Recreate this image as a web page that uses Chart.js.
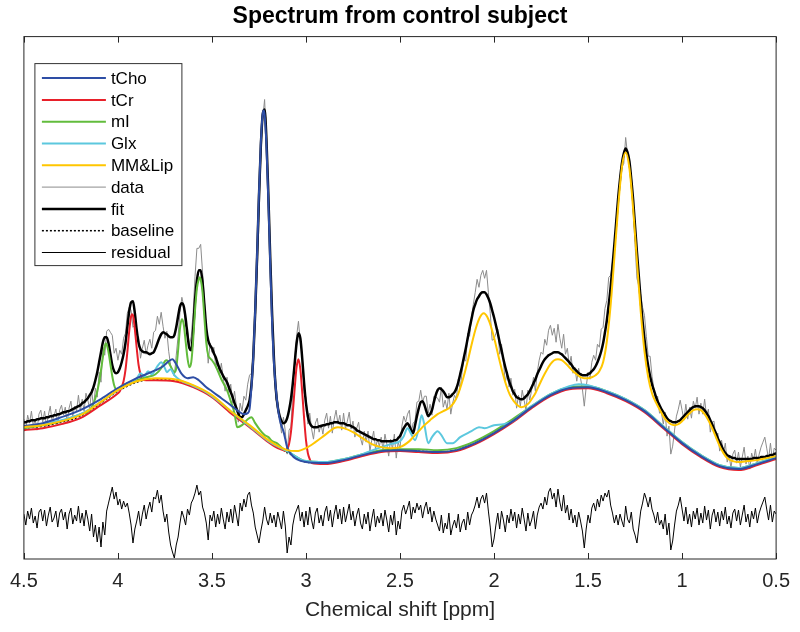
<!DOCTYPE html>
<html>
<head>
<meta charset="utf-8">
<title>Spectrum from control subject</title>
<script src="https://cdn.jsdelivr.net/npm/chart.js@4.4.1/dist/chart.umd.min.js"></script>
<style>
  html, body { margin: 0; padding: 0; background: #fff; }
  #chart { display: block; }
</style>
</head>
<body>
<canvas id="chart" width="800" height="632"></canvas>
<script>
// x ticks (ppm), axis runs 4.5 -> 0.5
const xTicks = [4.5, 4, 3.5, 3, 2.5, 2, 1.5, 1, 0.5];

// measured data / fit / residual sampled every 0.01 ppm from 4.50 down to 0.50
const ppmGrid = [];
for (let i = 0; i <= 400; i++) ppmGrid.push(Math.round((4.5 - i * 0.01) * 100) / 100);

const dataVals = [
  140,129,144,136,148,133,140,129,145,149, 137,148,133,144,153,138,143,150,135,149,
  154,144,152,136,151,158,143,153,148,164, 148,160,148,166,159,150,170,152,171,162,
  187,177,212,204,228,230,227,224,206,211, 199,209,205,221,226,246,252,249,232,234,
  225,222,201,211,219,205,214,220,211,227, 229,243,235,247,233,221,228,208,194,187,
  183,204,223,247,262,253,233,232,213,223, 247,283,311,311,315,287,258,225,196,216,
  207,212,192,199,184,196,181,168,182,167, 175,156,168,153,137,156,148,163,159,175,
  184,186,207,237,284,337,400,441,460,417, 356,305,238,201,159,157,140,126,142,128,
  105,129,132,168,198,223,238,217,206,166, 162,135,146,130,120,136,141,127,135,125,
  139,146,131,143,126,140,149,135,144,129, 146,130,138,147,130,138,122,131,137,121,
  114,128,117,128,108,119,128,110,120,113, 122,109,125,115,103,120,110,125,101,117,
  111,133,143,137,145,149,127,136,138,157, 158,169,157,163,163,146,155,144,163,162,
  161,157,172,152,159,150,166,145,156,164, 160,180,170,187,200,198,226,223,242,255,
  267,280,272,284,289,281,289,267,246,219, 220,226,230,205,215,197,177,187,172,181,
  164,170,151,164,153,169,159,149,169,159, 169,182,168,187,199,207,205,220,214,229,
  234,224,231,217,235,221,211,225,205,211, 194,203,186,192,178,191,181,170,153,172,
  187,180,197,204,199,215,212,230,232,251, 259,282,284,297,309,340,353,383,392,396,
  422,405,392,385,347,315,281,273,265,252, 244,223,203,203,183,171,157,163,146,147,
  135,147,123,133,105,113,129,143,150,159, 149,139,155,140,152,141,158,151,162,145,
  156,145,160,143,150,127,137,138,121,126, 108,119,106,116,97,104,91,105,109,96,
  107,92,102,112,95,103,90,106,99,110, 95,105,112,117,122,111,100,116,99,111,
  109
];

const fitVals = [
  137,137,138,138,139,139,139,140,140,141, 141,141,142,142,143,143,144,144,145,145,
  146,147,147,148,148,149,150,151,152,153, 154,156,157,159,161,164,167,172,179,187,
  197,207,217,222,222,216,205,194,188,186, 187,191,197,205,216,232,248,257,258,246,
  229,216,210,208,207,207,206,205,206,207, 211,216,221,225,227,226,225,223,222,222,
  224,232,243,253,256,253,241,224,211,209, 229,259,279,289,289,277,254,231,219,214,
  211,206,202,196,191,187,183,180,177,172, 167,162,156,151,146,142,142,145,149,153,
  159,174,203,247,302,363,414,445,450,419, 364,301,244,199,169,152,143,138,136,137,
  141,149,160,176,196,216,226,221,201,176, 156,143,136,133,132,132,132,133,133,134,
  134,135,135,136,136,137,137,137,136,136, 136,135,134,134,133,132,131,129,128,127,
  126,125,124,123,122,121,120,120,119,119, 118,118,118,118,118,118,118,119,119,121,
  123,127,131,134,136,133,129,126,134,143, 151,157,158,154,148,143,145,149,157,164,
  169,171,170,168,165,162,162,163,165,167, 171,177,185,193,202,211,221,231,240,249,
  255,260,263,266,267,267,265,261,256,249, 242,234,226,217,209,200,192,185,178,173,
  168,165,162,161,160,160,161,163,165,168, 172,176,180,185,189,193,197,200,202,204,
  205,206,207,207,207,206,205,203,201,199, 197,195,192,190,188,186,185,184,184,184,
  185,186,188,190,193,197,202,208,216,227, 239,255,272,293,315,338,361,380,396,406,
  411,407,398,380,359,333,307,283,259,238, 220,205,193,183,175,169,163,158,154,150,
  147,144,141,139,138,137,137,137,138,139, 141,143,145,147,149,151,152,153,153,153,
  152,151,149,146,143,139,135,130,126,121, 117,113,109,106,104,103,102,101,101,100,
  100,100,100,100,100,100,100,100,101,101, 101,101,102,102,102,103,103,104,104,105,
  106
];

const residualVals = [
  45,34,48,40,51,36,43,31,47,50, 38,49,33,44,52,37,41,48,32,46,
  50,39,47,30,45,51,35,44,38,53, 36,46,33,49,40,28,45,22,34,17,
  32,12,37,24,48,56,64,72,60,67, 54,60,50,58,52,56,46,34,16,30,
  38,48,33,45,54,40,50,57,47,62, 60,69,56,64,48,37,45,27,14,7,
  1,14,22,36,48,42,34,50,44,56, 60,66,74,64,68,52,46,36,19,44,
  38,48,32,45,35,51,40,30,47,37, 50,36,54,44,33,56,48,60,52,64,
  67,54,46,32,24,16,28,38,52,40, 34,46,36,44,32,47,39,30,48,33,
  6,22,14,34,44,49,54,38,47,32, 48,34,52,39,30,46,51,36,44,33,
  47,53,38,49,32,45,54,40,50,35, 52,37,46,55,39,48,33,44,51,36,
  30,45,35,47,28,40,50,32,43,36, 46,33,49,39,27,44,34,48,24,38,
  30,48,54,45,51,58,40,52,46,56, 49,54,41,51,57,45,52,37,48,40,
  34,28,44,26,36,30,46,24,33,39, 31,45,27,36,40,29,47,34,44,48,
  54,62,51,60,64,56,66,48,32,12, 20,34,46,30,48,39,27,44,36,50,
  38,47,31,45,35,51,40,28,46,33, 39,48,30,44,52,56,50,62,54,67,
  71,60,66,52,70,57,48,64,46,54, 39,50,36,44,32,47,38,28,11,30,
  44,36,51,56,48,60,52,64,58,66, 62,69,54,46,36,44,34,45,38,32,
  53,40,36,47,30,24,16,32,48,56, 66,60,52,62,50,44,36,47,34,39,
  30,45,24,36,9,18,34,48,54,62, 50,38,52,35,45,32,48,40,51,34,
  46,36,53,39,49,30,44,50,37,47, 33,48,39,52,35,43,31,46,50,38,
  49,34,44,54,37,45,32,48,40,51, 36,46,52,57,62,50,39,54,37,48,
  45
];

// baseline
const basePpm = [4.5,4.4,4.3,4.2,4.1,4.0,3.9,3.8,3.7,3.6,3.5,3.4,3.3,3.2,3.1,3.0,2.9,2.8,2.7,2.6,2.5,
  2.4,2.3,2.2,2.1,2.0,1.9,1.8,1.7,1.6,1.5,1.4,1.3,1.2,1.1,1.0,0.9,0.8,0.7,0.6,0.5];
const baseVals = [131,133,137,143,155,168,177,180,179,173,163,147,133,118,107,97,96,99,104,108,109,
  108,107,109,116,126,138,152,164,171,172,167,159,148,132,116,103,93,90,95,101];

// tCho
const choPpm = [4.5,4.4,4.3,4.2,4.1,4.0,3.9,3.8,3.76,3.73,3.71,3.69,3.66,3.63,3.6,3.57,3.53,3.5,3.45,3.4,
  3.36,3.33,3.31,3.3,3.29,3.28,3.27,3.26,3.25,3.24,3.23,3.225,3.22,3.21,3.2,3.19,3.18,3.17,3.16,3.15,
  3.14,3.13,3.12,3.11,3.1,3.08,3.05,3.0,2.9,2.8,2.7,2.6,2.5,2.4,2.3,2.2,2.1,2.0,1.9,1.8,1.7,1.6,1.5,
  1.4,1.3,1.2,1.1,1.0,0.9,0.8,0.7,0.6,0.5];
const choVals = [133,136,142,149,159,171,181,189,193,198,200,195,185,181,182,179,172,168,161,154,
  148,145,146,150,172,203,249,305,366,417,446,449,445,413,358,295,236,195,170,152,
  140,133,128,120,112,105,100,97,96,99,104,108,109,108,107,109,116,126,138,152,164,171,172,
  167,159,148,132,116,103,93,90,95,101];

// tCr
const crPpm = [4.5,4.4,4.3,4.2,4.1,4.0,3.99,3.97,3.96,3.95,3.94,3.93,3.925,3.92,3.91,3.9,3.89,3.88,3.87,3.85,
  3.8,3.7,3.6,3.5,3.4,3.3,3.2,3.15,3.12,3.11,3.1,3.09,3.08,3.07,3.06,3.05,3.04,3.03,3.02,3.01,3.0,
  2.99,2.98,2.97,2.9,2.8,2.7,2.6,2.5,2.4,2.3,2.2,2.1,2.0,1.9,1.8,1.7,1.6,1.5,1.4,1.3,1.2,1.1,1.0,
  0.9,0.8,0.7,0.6,0.5];
const crVals = [129,131,135,141,153,166,168,178,189,207,228,243,245,244,230,211,194,185,180,179,
  179,178,172,162,146,132,117,111,109,108,110,115,127,147,171,192,200,190,167,141,119,
  106,100,96,95,98,103,107,108,107,106,108,115,125,137,151,163,170,171,166,158,147,131,115,
  102,92,89,94,100];

// mI
const miPpm = [4.5,4.4,4.3,4.2,4.15,4.12,4.1,4.09,4.08,4.07,4.065,4.06,4.05,4.04,4.03,4.02,4.01,4.0,3.98,
  3.95,3.9,3.85,3.8,3.77,3.75,3.74,3.72,3.7,3.69,3.68,3.67,3.66,3.65,3.64,3.63,3.62,3.61,3.6,3.59,
  3.58,3.57,3.565,3.56,3.55,3.54,3.53,3.52,3.51,3.5,3.48,3.45,3.42,3.4,3.38,3.366,3.34,3.31,3.29,
  3.27,3.244,3.22,3.2,3.18,3.155,3.12,3.1,3.0,2.9,2.8,2.7,2.6,2.5,2.4,2.3,2.2,2.1,2.0,1.9,1.8,
  1.7,1.6,1.5,1.4,1.3,1.2,1.1,1.0,0.9,0.8,0.7,0.6,0.5];
const miVals = [131,134,138,145,149,161,177,189,202,213,216,215,207,195,183,174,170,170,173,
  176,179,182,185,191,198,199,193,187,191,209,231,240,235,218,201,192,197,219,249,
  271,280,282,280,267,241,216,204,201,199,193,180,169,158,146,132,134,140,142,
  136,129,124,122,118,116,110,108,98,97,100,105,109,110,110,109,111,118,128,140,153,
  165,172,173,168,160,149,133,117,104,94,91,96,102];

// Glx
const glxPpm = [4.5,4.4,4.3,4.2,4.1,4.0,3.95,3.9,3.88,3.86,3.84,3.82,3.79,3.77,3.75,3.74,3.72,3.7,3.67,
  3.62,3.55,3.5,3.4,3.3,3.2,3.1,3.0,2.9,2.8,2.7,2.6,2.55,2.5,2.48,2.46,2.44,2.42,2.4,2.385,2.37,
  2.35,2.33,2.3,2.28,2.25,2.22,2.18,2.12,2.08,2.05,2.0,1.95,1.9,1.85,1.8,1.7,1.6,1.55,1.5,1.4,
  1.3,1.2,1.1,1.0,0.9,0.8,0.7,0.6,0.5];
const glxVals = [132,135,139,145,156,169,175,181,186,183,188,185,193,197,191,187,190,184,179,
  175,169,163,148,133,118,108,98,97,100,105,112,115,118,123,131,125,119,131,144,134,
  116,122,128,124,116,116,122,128,132,131,134,135,138,146,153,165,173,175,174,168,
  160,149,133,117,104,94,91,96,102];

// MM & lipids
const mmPpm = [4.5,4.4,4.3,4.2,4.1,4.0,3.9,3.8,3.7,3.6,3.5,3.4,3.3,3.2,3.1,3.05,3.0,2.95,2.9,2.85,2.83,
  2.8,2.75,2.7,2.65,2.6,2.55,2.5,2.45,2.43,2.4,2.37,2.34,2.3,2.27,2.24,2.215,2.195,2.175,2.155,
  2.135,2.115,2.095,2.075,2.055,2.035,2.015,1.995,1.975,1.955,1.935,1.915,1.895,1.875,1.855,1.835,
  1.815,1.8,1.78,1.76,1.74,1.72,1.7,1.68,1.66,1.64,1.62,1.6,1.58,1.56,1.54,1.52,1.5,1.48,1.46,
  1.44,1.42,1.4,1.38,1.36,1.34,1.32,1.3,1.28,1.26,1.24,1.22,1.2,1.18,1.16,1.14,1.12,1.1,1.08,
  1.06,1.04,1.02,1.0,0.98,0.96,0.94,0.92,0.9,0.88,0.86,0.84,0.82,0.8,0.78,0.76,0.73,0.7,0.65,
  0.6,0.55,0.5];
const mmVals = [132,134,138,144,156,169,178,181,180,174,164,148,134,119,109,108,111,117,124,131,132,
  131,127,121,115,112,111,112,118,122,128,134,139,145,148,151,156,163,174,187,
  202,218,232,242,246,242,232,218,202,187,174,164,158,154,152,153,
  156,160,166,174,182,189,195,199,200,199,196,192,188,185,182,181,181,182,184,
  188,197,218,254,302,352,392,407,391,350,298,248,208,182,166,157,150,143,138,
  135,134,135,138,142,146,149,150,149,145,139,131,122,113,106,101,98,97,98,
  99,101,103];

const toPoints = (xs, ys) => xs.map((x, i) => ({ x: x, y: ys[i] }));

const AXIS_COLOR = '#262626';
Chart.defaults.font.family = "'Liberation Sans', Arial, Helvetica, sans-serif";
Chart.defaults.color = AXIS_COLOR;

// box round the axes, inward ticks top and bottom, legend box inside the plot
const frameAndLegend = {
  id: 'frameAndLegend',
  afterDraw(chart) {
    const { ctx, chartArea: a } = chart;
    const xs = chart.scales.x;
    ctx.save();
    ctx.strokeStyle = AXIS_COLOR;
    ctx.lineWidth = 1;
    ctx.setLineDash([]);
    ctx.strokeRect(a.left, a.top, a.right - a.left, a.bottom - a.top);
    ctx.beginPath();
    xTicks.forEach(v => {
      const px = Math.round(xs.getPixelForValue(v)) + 0.5;
      ctx.moveTo(px, a.bottom);
      ctx.lineTo(px, a.bottom - 6);
      ctx.moveTo(px, a.top);
      ctx.lineTo(px, a.top + 6);
    });
    ctx.stroke();

    // legend
    const bx = a.left + 11, by = a.top + 27, bw = 147, bh = 202;
    ctx.fillStyle = '#fff';
    ctx.fillRect(bx, by, bw, bh);
    ctx.strokeStyle = '#333';
    ctx.strokeRect(bx, by, bw, bh);
    ctx.font = "17px 'Liberation Sans', Arial, sans-serif";
    ctx.textBaseline = 'middle';
    chart.data.datasets.forEach((ds, i) => {
      const y = by + 14.5 + i * 21.8;
      ctx.beginPath();
      ctx.strokeStyle = ds.borderColor;
      ctx.lineWidth = ds.borderWidth;
      ctx.setLineDash(ds.borderDash || []);
      ctx.moveTo(bx + 7, y);
      ctx.lineTo(bx + 71, y);
      ctx.stroke();
      ctx.setLineDash([]);
      ctx.fillStyle = '#000';
      ctx.fillText(ds.label, bx + 76, y + 1);
    });
    ctx.restore();
  }
};

const smooth = { cubicInterpolationMode: 'monotone', pointRadius: 0, fill: false };

new Chart(document.getElementById('chart'), {
  type: 'line',
  data: {
    datasets: [
      { label: 'tCho', data: toPoints(choPpm, choVals), borderColor: 'rgb(46,78,165)', borderWidth: 2, order: 1, ...smooth },
      { label: 'tCr', data: toPoints(crPpm, crVals), borderColor: 'rgb(232,32,42)', borderWidth: 2, order: 4, ...smooth },
      { label: 'mI', data: toPoints(miPpm, miVals), borderColor: 'rgb(98,188,60)', borderWidth: 2, order: 3, ...smooth },
      { label: 'Glx', data: toPoints(glxPpm, glxVals), borderColor: 'rgb(92,200,222)', borderWidth: 2, order: 2, ...smooth },
      { label: 'MM&Lip', data: toPoints(mmPpm, mmVals), borderColor: 'rgb(255,198,0)', borderWidth: 2, order: 0, ...smooth },
      { label: 'data', data: toPoints(ppmGrid, dataVals), borderColor: 'rgb(140,140,140)', borderWidth: 1, order: 9, tension: 0, pointRadius: 0, fill: false },
      { label: 'fit', data: toPoints(ppmGrid, fitVals), borderColor: '#000', borderWidth: 2.5, order: 7, ...smooth },
      { label: 'baseline', data: toPoints(basePpm, baseVals), borderColor: '#000', borderWidth: 1.5, borderDash: [2, 2], order: 6, ...smooth },
      { label: 'residual', data: toPoints(ppmGrid, residualVals), borderColor: '#000', borderWidth: 1, order: 8, tension: 0, pointRadius: 0, fill: false }
    ]
  },
  options: {
    responsive: false,
    animation: false,
    devicePixelRatio: 1,
    layout: { padding: { left: 23.5, right: 23.5, top: 0, bottom: 0 } },
    plugins: {
      legend: { display: false },
      tooltip: { enabled: false },
      title: {
        display: true,
        text: 'Spectrum from control subject',
        color: '#000',
        font: { size: 23, weight: 'bold' },
        padding: { top: 3, bottom: 6 }
      }
    },
    scales: {
      x: {
        type: 'linear',
        reverse: true,
        min: 0.5,
        max: 4.5,
        afterBuildTicks: (s) => { s.ticks = xTicks.map(v => ({ value: v })); },
        afterFit: (s) => { s.height = 73; },
        ticks: { font: { size: 20 }, color: AXIS_COLOR, padding: 10, autoSkip: false, maxRotation: 0, callback: (v) => String(v) },
        grid: { display: false, drawTicks: false },
        border: { display: false },
        title: { display: true, text: 'Chemical shift [ppm]', color: AXIS_COLOR, font: { size: 21 }, padding: { top: 2, bottom: 9 } }
      },
      y: { display: false, min: 0, max: 523 }
    }
  },
  plugins: [frameAndLegend]
});
</script>
</body>
</html>
